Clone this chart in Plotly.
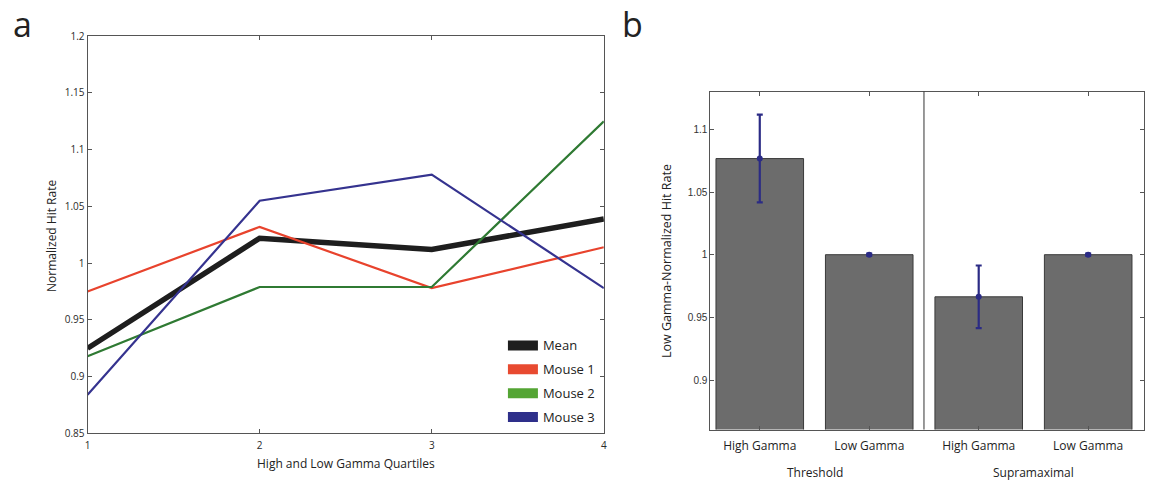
import plotly.graph_objects as go

# ---- Panel a data ----
quartiles = [1, 2, 3, 4]
mean_rate = [0.925, 1.022, 1.012, 1.039]
mouse1 = [0.975, 1.032, 0.978, 1.014]
mouse2 = [0.918, 0.979, 0.979, 1.125]
mouse3 = [0.884, 1.055, 1.078, 0.978]
a_ytick_vals = [0.85, 0.9, 0.95, 1.0, 1.05, 1.1, 1.15, 1.2]
a_ytick_text = ["0.85", "0.9", "0.95", "1", "1.05", "1.1", "1.15", "1.2"]

# ---- Panel b data ----
b_positions = [1, 2, 3, 4]
b_labels = ["High Gamma", "Low Gamma", "High Gamma", "Low Gamma"]
b_values = [1.0767, 1.0, 0.9664, 1.0]
b_errors = [0.035, 0.0008, 0.025, 0.0008]
b_groups = ["Threshold", "Supramaximal"]
b_group_centers = [1.5, 3.5]
b_ytick_vals = [0.9, 0.95, 1.0, 1.05, 1.1]
b_ytick_text = ["0.9", "0.95", "1", "1.05", "1.1"]

series = [
    ("Mean", mean_rate, "#1e1e1e", 5.5, "#1e1e1e"),
    ("Mouse 1", mouse1, "#e8432d", 2.2, "#e84a30"),
    ("Mouse 2", mouse2, "#2f7a33", 2.2, "#54a534"),
    ("Mouse 3", mouse3, "#35338f", 2.2, "#2e2f8a"),
]

fig = go.Figure()

for name, vals, col, w, lcol in series:
    fig.add_trace(go.Scatter(
        x=quartiles, y=vals, mode="lines", name=name,
        line=dict(color=col, width=w), showlegend=False,
        legendgroup=name, xaxis="x", yaxis="y"))

# legend entries shown as thick boxes
for name, vals, col, w, lcol in series:
    fig.add_trace(go.Scatter(
        x=[None], y=[None], mode="lines", line=dict(color=lcol, width=13),
        name=name, legendgroup=name, showlegend=True, xaxis="x", yaxis="y"))

# Panel b bars
fig.add_trace(go.Bar(
    x=b_positions, y=b_values, width=0.8, base=0,
    marker=dict(color="#6c6c6c", line=dict(color="#3a3a3a", width=1)),
    showlegend=False, xaxis="x2", yaxis="y2"))

# error bars with a dot at the mean
fig.add_trace(go.Scatter(
    x=b_positions, y=b_values, mode="markers",
    marker=dict(color="#2b2b85", size=6, symbol="circle"),
    error_y=dict(type="data", array=b_errors, color="#2b2b85",
                 thickness=2.2, width=3),
    showlegend=False, xaxis="x2", yaxis="y2"))

axis_font = dict(family="Open Sans, Lato, sans-serif", size=10, color="#2a2a2a")

fig.update_layout(
    width=1150, height=489,
    margin=dict(l=0, r=0, t=0, b=0),
    paper_bgcolor="white", plot_bgcolor="white",
    showlegend=True,
    legend=dict(x=0.437, y=1 - 333/489, xanchor="left", yanchor="top",
                bgcolor="rgba(0,0,0,0)", borderwidth=0,
                font=dict(family="Open Sans, sans-serif", size=13, color="#222"),
                itemwidth=30, tracegroupgap=4, traceorder="grouped"),
    xaxis=dict(domain=[85/1150, 604/1150], range=[1, 4],
               tickvals=quartiles, ticktext=[str(q) for q in quartiles],
               ticks="inside", ticklen=4, tickcolor="#555",
               showline=True, linecolor="#555", linewidth=1, mirror="ticks",
               showgrid=False, zeroline=False, tickfont=axis_font,
               ticklabelstandoff=3, anchor="y"),
    yaxis=dict(domain=[(489-439)/489, (489-30)/489], range=[0.85, 1.2],
               tickvals=a_ytick_vals, ticktext=a_ytick_text,
               ticks="inside", ticklen=4, tickcolor="#555",
               showline=True, linecolor="#555", linewidth=1, mirror="ticks",
               showgrid=False, zeroline=False, tickfont=axis_font,
               anchor="x"),
    xaxis2=dict(domain=[711/1150, 1147/1150], range=[0.548, 4.51],
                tickvals=b_positions, ticktext=b_labels,
                ticks="inside", ticklen=4, tickcolor="#555",
                showline=True, linecolor="#555", linewidth=1, mirror="ticks",
                showgrid=False, zeroline=False,
                tickfont=dict(family="Open Sans, sans-serif", size=12, color="#1e1e1e"),
                ticklabelstandoff=5, anchor="y2"),
    yaxis2=dict(domain=[(489-435)/489, (489-87)/489], range=[0.8605, 1.1302],
                tickvals=b_ytick_vals, ticktext=b_ytick_text,
                ticks="inside", ticklen=4, tickcolor="#555",
                showline=True, linecolor="#555", linewidth=1, mirror="ticks",
                showgrid=False, zeroline=False,
                tickfont=dict(family="Liberation Sans, Arial, sans-serif", size=10, color="#333"),
                anchor="x2"),
    font=dict(family="Open Sans, sans-serif"),
)

# separator between groups in panel b
fig.add_shape(type="line", xref="x2", yref="y2 domain", x0=2.5, x1=2.5, y0=0, y1=1,
              line=dict(color="#333", width=1))

annotations = [
    dict(text="a", x=8/1150, y=1 - 18/489, xref="paper", yref="paper",
         xanchor="left", yanchor="middle", showarrow=False,
         font=dict(family="Open Sans, sans-serif", size=34, color="#222")),
    dict(text="b", x=620/1150, y=1 - 18/489, xref="paper", yref="paper",
         xanchor="left", yanchor="middle", showarrow=False,
         font=dict(family="Open Sans, sans-serif", size=34, color="#222")),
    dict(text="Normalized Hit Rate", x=48/1150, y=1 - 236/489, xref="paper", yref="paper",
         textangle=-90, showarrow=False, xanchor="center", yanchor="middle",
         font=dict(family="Open Sans, sans-serif", size=12, color="#222")),
    dict(text="High and Low Gamma Quartiles", x=(85+604)/2/1150, y=1 - 470/489,
         xref="paper", yref="paper", showarrow=False, xanchor="center", yanchor="middle",
         font=dict(family="Open Sans, sans-serif", size=12, color="#222")),
    dict(text="Low Gamma-Normalized Hit Rate", x=667/1150, y=1 - 262/489,
         xref="paper", yref="paper", textangle=-90, showarrow=False,
         xanchor="center", yanchor="middle",
         font=dict(family="Open Sans, sans-serif", size=12.5, color="#222")),
]
for g, c in zip(b_groups, b_group_centers):
    annotations.append(dict(text=g, x=c, y=1 - 479/489, xref="x2", yref="paper",
                            showarrow=False, xanchor="center", yanchor="middle",
                            font=dict(family="Open Sans, sans-serif", size=12, color="#222")))
fig.update_layout(annotations=annotations)

fig.write_html("out.html")
